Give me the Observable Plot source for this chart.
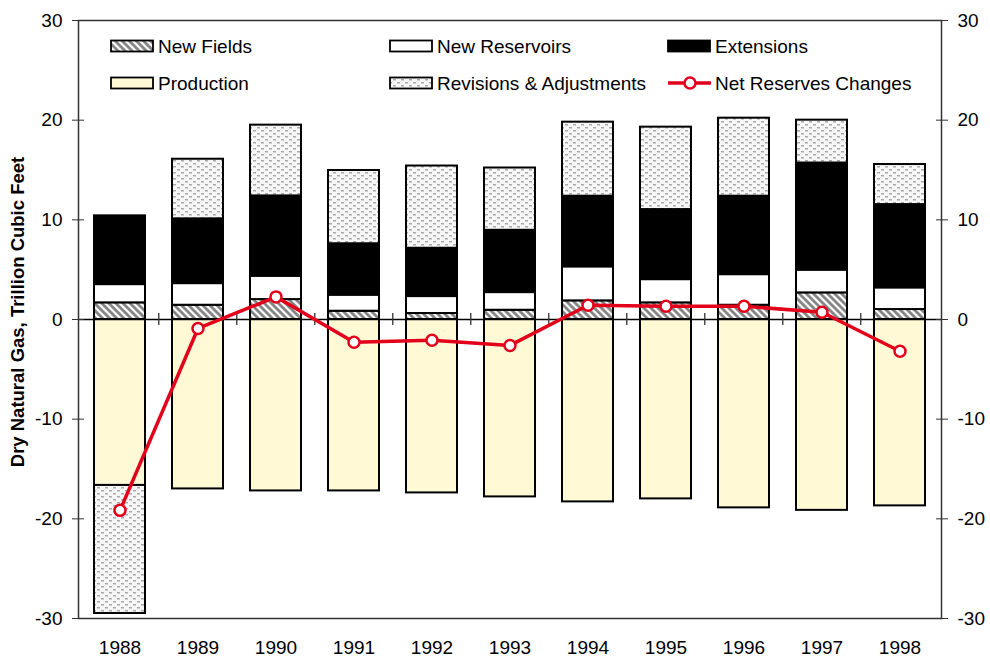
<!DOCTYPE html>
<html><head><meta charset="utf-8">
<script src="https://cdn.jsdelivr.net/npm/d3@7"></script>
<script src="https://cdn.jsdelivr.net/npm/@observablehq/plot@0.6"></script>
<style>body{margin:0;background:#fff} #chart svg{display:block}</style>
</head><body><div id="chart"></div>
<script>
const years = ["1988","1989","1990","1991","1992","1993","1994","1995","1996","1997","1998"];
const newFields     = [1.67, 1.43, 2.00, 0.83, 0.60, 0.93, 1.87, 1.67, 1.43, 2.67, 1.00];
const newReservoirs = [1.83, 2.17, 2.34, 1.61, 1.70, 1.77, 3.41, 2.33, 3.07, 2.28, 2.17];
const extensions    = [6.90, 6.50, 8.06, 5.16, 4.85, 6.25, 7.09, 7.03, 7.87, 10.75, 8.36];
const production    = [-16.65, -17.0, -17.2, -17.2, -17.4, -17.8, -18.3, -18.0, -18.9, -19.15, -18.7];
const revisions     = [-12.85, 5.98, 7.10, 7.35, 8.25, 6.25, 7.43, 8.27, 7.83, 4.30, 4.02];
const netChanges    = [-19.15, -0.9, 2.27, -2.28, -2.08, -2.6, 1.43, 1.33, 1.33, 0.73, -3.18];
const categories = ["New Fields", "New Reservoirs", "Extensions", "Production", "Revisions & Adjustments"];
const netLabel = "Net Reserves Changes";
const yTicks = [-30, -20, -10, 0, 10, 20, 30];
const yLabel = "Dry Natural Gas, Trillion Cubic Feet";

const fills = ["url(#pHatch)", "white", "black", "#fffad5", "url(#pDots)"];
const series = [newFields, newReservoirs, extensions, production, revisions];
const rows = [];
years.forEach((yr, i) => categories.forEach((c, j) => rows.push({year: yr, type: c, value: series[j][i]})));
const netRows = years.map((yr, i) => ({year: yr, value: netChanges[i]}));

const W = 990, H = 660, mL = 78, mR = 49, mT = 20, mB = 42;
const step = (W - mL - mR) / years.length;
const red = "#e2001a";
const font = "Arial, 'Liberation Sans', sans-serif";
const fmt = d => String(d);

const plot = Plot.plot({
  width: W, height: H, marginLeft: mL, marginRight: mR, marginTop: mT, marginBottom: mB,
  style: {fontFamily: font, fontSize: "19px", color: "#000", background: "white"},
  x: {type: "band", domain: years, paddingInner: 0.34, paddingOuter: 0.17, axis: null, label: null},
  y: {domain: [-30, 30], axis: null, label: null},
  color: {domain: categories, range: fills},
  marks: [
    Plot.barY(rows, Plot.stackY({x: "year", y: "value", fill: "type", z: "type", stroke: "black", strokeWidth: 2})),
    Plot.ruleY([0], {stroke: "black", strokeWidth: 1.5}),
    Plot.ruleX(years.slice(1), {x: d => d, y1: -0.6, y2: 0.6, dx: -step / 2, stroke: "#333", strokeWidth: 1.3}),
    Plot.frame({stroke: "#333", strokeWidth: 1.5}),
    Plot.axisY(yTicks, {anchor: "left", tickSize: 6, tickPadding: 10, label: null, fontSize: 19, stroke: "#333", tickFormat: fmt}),
    Plot.axisY(yTicks, {anchor: "left", tickSize: 6, dx: 6, label: null, tickFormat: () => "", stroke: "#333"}),
    Plot.axisY(yTicks, {anchor: "right", tickSize: 6, tickPadding: 10, label: null, fontSize: 19, stroke: "#333", tickFormat: fmt}),
    Plot.axisY(yTicks, {anchor: "right", tickSize: 6, dx: -6, label: null, tickFormat: () => "", stroke: "#333"}),
    Plot.axisX({anchor: "bottom", tickSize: 0, tickPadding: 22, label: null, fontSize: 19}),
    Plot.line(netRows, {x: "year", y: "value", stroke: red, strokeWidth: 3.5}),
    Plot.dot(netRows, {x: "year", y: "value", r: 5.5, fill: "white", stroke: red, strokeWidth: 2.5})
  ]
});

const svg = d3.select(plot);
const defs = svg.insert("defs", ":first-child");
const hatch = defs.append("pattern").attr("id", "pHatch").attr("width", 5).attr("height", 5)
  .attr("patternUnits", "userSpaceOnUse").attr("patternTransform", "rotate(-45)");
hatch.append("rect").attr("width", 5).attr("height", 5).attr("fill", "white");
hatch.append("line").attr("x1", 2.5).attr("y1", 0).attr("x2", 2.5).attr("y2", 5).attr("stroke", "#7a7a7a").attr("stroke-width", 2.6);
const dots = defs.append("pattern").attr("id", "pDots").attr("width", 8).attr("height", 6)
  .attr("patternUnits", "userSpaceOnUse");
dots.append("rect").attr("width", 8).attr("height", 6).attr("fill", "#f7f7f7");
dots.append("rect").attr("x", 1).attr("y", 1).attr("width", 3).attr("height", 1.5).attr("fill", "#aaa");
dots.append("rect").attr("x", 5).attr("y", 4).attr("width", 3).attr("height", 1.5).attr("fill", "#aaa");

// Legend
const legendItems = [
  {label: categories[0], fill: fills[0], x: 111, y: 46},
  {label: categories[1], fill: fills[1], x: 390, y: 46},
  {label: categories[2], fill: fills[2], x: 668, y: 46},
  {label: categories[3], fill: fills[3], x: 111, y: 83},
  {label: categories[4], fill: fills[4], x: 390, y: 83},
  {label: netLabel, line: true, x: 668, y: 83}
];
const lg = svg.append("g").attr("font-family", font).attr("font-size", 19).attr("text-anchor", "start");
legendItems.forEach(it => {
  const g = lg.append("g");
  if (it.line) {
    g.append("line").attr("x1", it.x).attr("x2", it.x + 43).attr("y1", it.y).attr("y2", it.y)
      .attr("stroke", red).attr("stroke-width", 3.5);
    g.append("circle").attr("cx", it.x + 22).attr("cy", it.y).attr("r", 5.5)
      .attr("fill", "white").attr("stroke", red).attr("stroke-width", 2.5);
  } else {
    g.append("rect").attr("x", it.x).attr("y", it.y - 5.5).attr("width", 42).attr("height", 11)
      .attr("fill", it.fill).attr("stroke", "black").attr("stroke-width", 1.8);
  }
  g.append("text").attr("x", it.x + 47).attr("y", it.y).attr("dy", "0.35em").attr("text-anchor", "start").text(it.label);
});

// Y-axis title
svg.append("text").attr("transform", "translate(18,312) rotate(-90)")
  .attr("text-anchor", "middle").attr("dy", "0.35em")
  .attr("font-family", font).attr("font-weight", "bold").attr("font-size", 18.5)
  .text(yLabel);

document.getElementById("chart").appendChild(plot);
</script>
</body></html>
